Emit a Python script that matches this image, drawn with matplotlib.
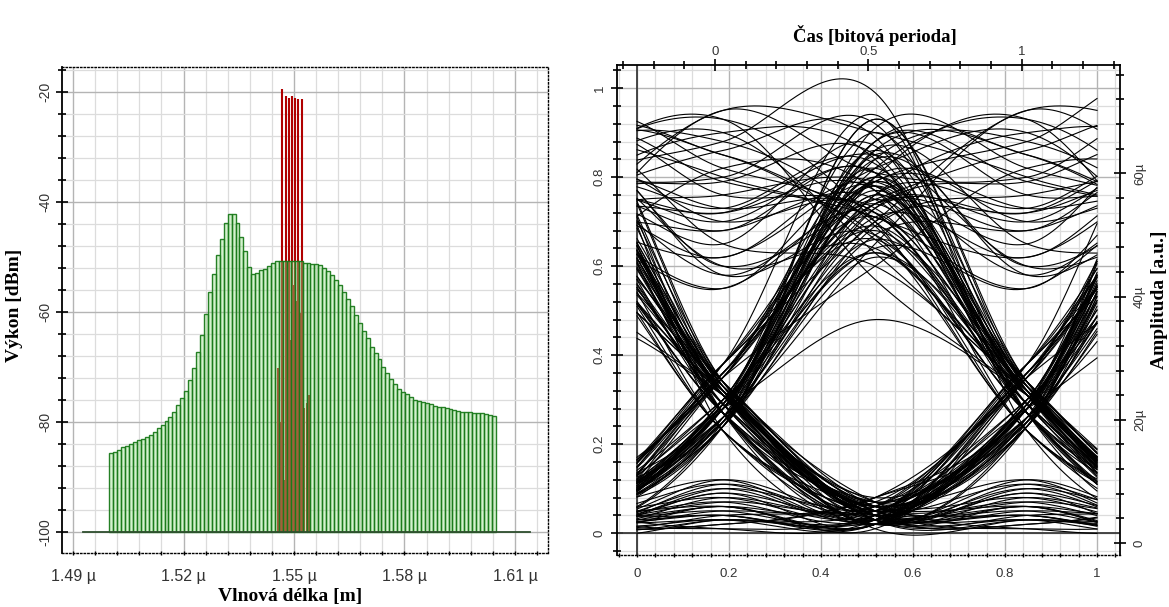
import numpy as np
import matplotlib
matplotlib.use("Agg")
import matplotlib.pyplot as plt
from matplotlib.ticker import FixedLocator

SANS = ['Liberation Sans', 'DejaVu Sans']
SERIF = ['Liberation Serif', 'DejaVu Serif']
plt.rcParams['font.family'] = SANS

# ---------------- spectrum (left) ----------------
GREEN_START_UM = 1.49986
GREEN_STEP_UM = 0.001071
GREEN_DBM = [
    -85.7, -85.4, -85.0, -84.6, -84.4, -84.0, -83.7, -83.3, -83.0, -82.7,
    -82.4, -81.8, -81.0, -80.5, -79.8, -79.0, -78.1, -76.9, -75.7, -74.4,
    -72.4, -70.2, -67.2, -64.2, -60.4, -56.3, -53.1, -49.6, -46.8, -43.9,
    -42.1, -42.2, -43.9, -46.3, -48.9, -51.8, -53.1, -52.9, -52.4, -52.1,
    -51.6, -51.1, -50.8, -50.7, -50.7, -50.7, -50.7, -50.8, -50.8, -51.0,
    -51.0, -51.2, -51.3, -51.5, -51.9, -52.5, -53.3, -54.1, -55.1, -56.3,
    -57.7, -58.9, -60.5, -61.9, -63.4, -64.8, -66.3, -67.5, -68.6, -69.9,
    -71.1, -72.1, -73.0, -73.9, -74.5, -74.9, -75.4, -75.9, -76.1, -76.3,
    -76.6, -76.8, -77.0, -77.2, -77.3, -77.5, -77.6, -77.8, -77.9, -78.1,
    -78.1, -78.2, -78.3, -78.4, -78.4, -78.5, -78.7, -78.9]
RED_WL_UM = [1.54553, 1.54634, 1.54683, 1.54729, 1.54775, 1.54811, 1.54857,
             1.54892, 1.54938, 1.54987, 1.55028, 1.55068, 1.55117, 1.55163,
             1.55226, 1.55285, 1.55353, 1.55408]
RED_DBM = [-70.2, -79.9, -19.5, -90.5, -20.7, -80.8, -21.0, -65.1, -20.7,
           -55.0, -21.1, -58.0, -21.3, -60.2, -21.3, -77.5, -76.5, -75.1]
BASELINE_UM = [1.4927, 1.6141]
FLOOR_DBM = -100.0
SPEC_XTICKS = [1.49, 1.52, 1.55, 1.58, 1.61]
SPEC_YTICKS = [-100, -80, -60, -40, -20]

# ---------------- eye diagram (right) ----------------
BITS = ("01101001" "11010010" "01100111" "00101101" "10010011" "01011000"
        "11101001" "10100110" "01001011" "10011010" "01110010" "11001101"
        "00101110" "10011001" "01100101" "10110011" "01001110" "01010100"
        "11011011" "00100101" "11001010" "01110010")
ONE_PCT = [74, 81, 66, 88, 71, 78, 93, 63, 76, 84, 69, 79, 72, 86, 60, 77,
           82, 70, 90, 67, 75, 80, 73, 85, 64, 79, 99, 68, 76, 83, 48, 74,
           87, 71, 78, 65, 81, 92, 70, 77, 62, 84, 75, 89, 69, 80, 73, 86,
           66, 78, 94, 71, 82, 63, 76, 88, 72, 79, 85, 67, 74, 91, 70, 80, 57]
ZERO_PCT = [4, 6, 3, 5, 2, 7, 4, 3, 6, 5, 2, 4, 8, 3, 5, 6, 2, 4, 3, 7,
            5, 4, 2, 6, 3, 5, 4, 7, 3, 2, 6, 4, 5, 3, 8, 4, 2, 5, 6, 3, 1]
CROSS_PCT = [29, 32, 26, 34, 28, 31, 25, 33, 30, 27, 36, 29, 24, 32, 28,
             31, 35, 27, 38, 23]
HIGH_EDGE_PCT = [70, 85, 62, 90, 76, 58, 82, 93, 68, 79, 55, 88, 73, 65,
                 95, 80, 72, 60, 86]
LOW_EDGE_PCT = [5, 3, 8, 12, 4, 2, 6, 10, 3, 7, 1, 9, 4, 11, 6]
EYE_XTICKS = [0, 0.2, 0.4, 0.6, 0.8, 1]
EYE_YTICKS = [0, 0.2, 0.4, 0.6, 0.8, 1]
TOP_TICKS = [0, 0.5, 1]
TOP_LABELS = ["0", "0.5", "1"]
RIGHT_TICKS = [0, 20e-6, 40e-6, 60e-6]
RIGHT_LABELS = ["0", "20\u00b5", "40\u00b5", "60\u00b5"]

W, H = 1169, 607
fig = plt.figure(figsize=(W / 100, H / 100), dpi=100)


def rect(x0, y0, x1, y1):
    return [x0 / W, 1 - y1 / H, (x1 - x0) / W, (y1 - y0) / H]


TICKCOL = '#333333'
MINOR_GRID = '#dcdcdc'
MAJOR_GRID = '#b4b4b4'
DOTTED = (0, (1, 1.6))

# ================= left: spectrum =================
ax1 = fig.add_axes(rect(62, 67, 548, 553))
ax1.set_xlim(1.48701, 1.61897)
ax1.set_ylim(-103.8, -15.45)

green_x = [GREEN_START_UM + i * GREEN_STEP_UM for i in range(len(GREEN_DBM))]
ax1.vlines(RED_WL_UM, FLOOR_DBM, RED_DBM, color='#b00000', lw=1.5, zorder=2)
ax1.bar(green_x, [v - FLOOR_DBM for v in GREEN_DBM], bottom=FLOOR_DBM,
        width=GREEN_STEP_UM, align='edge', facecolor=(0.60, 0.88, 0.55, 0.42),
        edgecolor=(0.10, 0.48, 0.10, 0.95), linewidth=1.0, zorder=3)
ax1.plot(BASELINE_UM, [FLOOR_DBM, FLOOR_DBM], color='#2f4f2f', lw=1.3, zorder=4)

ax1.xaxis.set_major_locator(FixedLocator(SPEC_XTICKS))
ax1.xaxis.set_minor_locator(FixedLocator([1.484 + 0.006 * i for i in range(23)]))
ax1.set_xticklabels([f"{v:.2f} \u00b5" for v in SPEC_XTICKS])
ax1.yaxis.set_major_locator(FixedLocator(SPEC_YTICKS))
ax1.yaxis.set_minor_locator(FixedLocator([-104 + 4 * i for i in range(23)]))
ax1.set_yticklabels([str(v) for v in SPEC_YTICKS])
ax1.grid(which='minor', color=MINOR_GRID, lw=0.9)
ax1.grid(which='major', color=MAJOR_GRID, lw=1.0)
ax1.set_axisbelow(True)
ax1.tick_params(axis='x', which='both', direction='inout', length=3, width=1,
                labelsize=11.5, labelcolor=TICKCOL, pad=10)
ax1.tick_params(axis='y', which='major', direction='inout', length=8, width=1.2,
                labelsize=10, labelcolor=TICKCOL, labelrotation=90, pad=3)
ax1.tick_params(axis='y', which='minor', direction='inout', length=6, width=1.2)
for lbl in ax1.get_yticklabels():
    lbl.set_va('center')
ax1.spines['left'].set_linewidth(1.3)
for s in ('top', 'right', 'bottom'):
    ax1.spines[s].set_linestyle(DOTTED)
    ax1.spines[s].set_linewidth(1.0)

fig.text(15 / W, 1 - 305 / H, "Výkon [dBm]", rotation=90, family=SERIF,
         fontweight='bold', fontsize=14, ha='center', va='center')
fig.text(290 / W, 1 - 596 / H, "Vlnová délka [m]", family=SERIF,
         fontweight='bold', fontsize=14, ha='center', va='center')

# ================= right: eye diagram =================
ax2 = fig.add_axes(rect(617, 65, 1120, 555))
ax2.set_xlim(-0.0435, 1.05)
ax2.set_ylim(-0.049, 1.052)

bits = [int(c) for c in BITS]
M = len(bits)
centers = []
io = iz = 0
for b in bits:
    if b:
        centers.append(ONE_PCT[io % len(ONE_PCT)] / 100.0); io += 1
    else:
        centers.append(ZERO_PCT[iz % len(ZERO_PCT)] / 100.0); iz += 1
edges = []
ic = ih = il = 0
for j in range(M + 1):
    a = bits[j - 1] if j > 0 else bits[0]
    b = bits[j] if j < M else bits[-1]
    if a != b:
        edges.append(CROSS_PCT[ic % len(CROSS_PCT)] / 100.0); ic += 1
    elif a == 1:
        edges.append(HIGH_EDGE_PCT[ih % len(HIGH_EDGE_PCT)] / 100.0); ih += 1
    else:
        edges.append(LOW_EDGE_PCT[il % len(LOW_EDGE_PCT)] / 100.0); il += 1
samples = []
for j in range(M):
    samples.append(edges[j]); samples.append(centers[j])
samples.append(edges[M])
samples = np.array(samples)

X0, T = 0.187, 0.661
t_loc = np.linspace((0 - X0) / T, (1 - X0) / T, 260)
x_tr = X0 + t_loc * T
for n in range(1, M - 1):
    tau2 = 2 * (n + t_loc)
    k = np.floor(tau2).astype(int)
    u = tau2 - k
    p0, p1, p2, p3 = samples[k - 1], samples[k], samples[k + 1], samples[k + 2]
    y = 0.5 * (2 * p1 + (-p0 + p2) * u + (2 * p0 - 5 * p1 + 4 * p2 - p3) * u ** 2
               + (-p0 + 3 * p1 - 3 * p2 + p3) * u ** 3)
    ax2.plot(x_tr, y, color='black', lw=0.8, zorder=3)

ax2.axhline(0, color='#3a3a3a', lw=1.3, zorder=2)
ax2.axvline(0, color='#3a3a3a', lw=1.3, zorder=2)

ax2.xaxis.set_major_locator(FixedLocator(EYE_XTICKS))
ax2.xaxis.set_minor_locator(FixedLocator([-0.04 + 0.04 * i for i in range(28)]))
ax2.set_xticklabels([("%g" % v) for v in EYE_XTICKS])
ax2.yaxis.set_major_locator(FixedLocator(EYE_YTICKS))
ax2.yaxis.set_minor_locator(FixedLocator([-0.04 + 0.04 * i for i in range(28)]))
ax2.set_yticklabels([("%g" % v) for v in EYE_YTICKS])
ax2.grid(which='minor', color=MINOR_GRID, lw=0.9)
ax2.grid(which='major', color=MAJOR_GRID, lw=1.0)
ax2.set_axisbelow(True)
ax2.tick_params(axis='x', which='both', direction='inout', length=3, width=1,
                labelsize=9.5, labelcolor=TICKCOL, pad=8)
ax2.tick_params(axis='y', which='major', direction='inout', length=8, width=1.2,
                labelsize=9.5, labelcolor=TICKCOL, labelrotation=90, pad=4)
ax2.tick_params(axis='y', which='minor', direction='inout', length=6, width=1.2)
for lbl in ax2.get_yticklabels():
    lbl.set_va('center')
ax2.spines['left'].set_linewidth(1.3)
ax2.spines['top'].set_linewidth(1.3)
ax2.spines['right'].set_linewidth(1.3)
ax2.spines['bottom'].set_linestyle(DOTTED)
ax2.spines['bottom'].set_linewidth(1.0)

ax2t = ax2.twiny()
ax2t.set_xlim(-0.3195, 1.3205)
ax2t.xaxis.set_major_locator(FixedLocator(TOP_TICKS))
ax2t.xaxis.set_minor_locator(FixedLocator([-0.3 + 0.1 * i for i in range(17)]))
ax2t.set_xticklabels(TOP_LABELS)
ax2t.tick_params(axis='x', which='major', direction='inout', length=8, width=1.2,
                 labelsize=9.5, labelcolor=TICKCOL, pad=1)
ax2t.tick_params(axis='x', which='minor', direction='inout', length=6, width=1.2)
for s in ax2t.spines.values():
    s.set_visible(False)

ax2r = ax2.twinx()
ax2r.set_ylim(-1.95e-6, 77.6e-6)
ax2r.yaxis.set_major_locator(FixedLocator(RIGHT_TICKS))
ax2r.yaxis.set_minor_locator(FixedLocator([4e-6 * i for i in range(20)]))
ax2r.set_yticklabels(RIGHT_LABELS)
ax2r.tick_params(axis='y', which='major', direction='inout', length=8, width=1.2,
                 labelsize=9.5, labelcolor=TICKCOL, labelrotation=90, pad=6)
ax2r.tick_params(axis='y', which='minor', direction='inout', length=6, width=1.2)
for lbl in ax2r.get_yticklabels():
    lbl.set_va('center')
for s in ax2r.spines.values():
    s.set_visible(False)

fig.text(875 / W, 1 - 35 / H, "Čas [bitová perioda]", family=SERIF,
         fontweight='bold', fontsize=13.5, ha='center', va='center')
fig.text(1160 / W, 1 - 300 / H, "Amplituda [a.u.]", rotation=90, family=SERIF,
         fontweight='bold', fontsize=14, ha='center', va='center')

fig.savefig("out.png", dpi=100)
